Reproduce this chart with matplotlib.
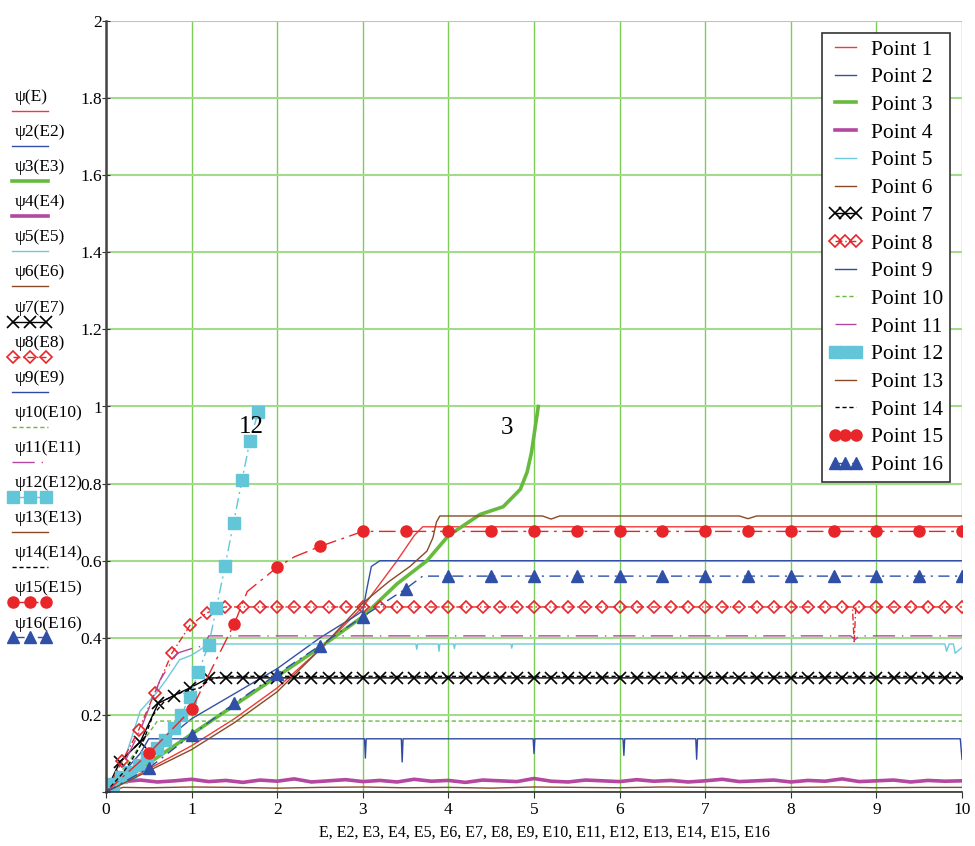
import numpy as np
import matplotlib
matplotlib.use("Agg")
import matplotlib.pyplot as plt
from matplotlib.lines import Line2D

plt.rcParams['font.family'] = ['Liberation Serif', 'DejaVu Serif']

# ---- data ----
E1 = [0, 0.5, 1.0, 1.5, 2.0, 2.5, 3.0, 3.4, 3.6, 3.7, 10]
P1 = [0, 0.06, 0.12, 0.19, 0.27, 0.37, 0.48, 0.6, 0.665, 0.688, 0.688]

E2 = [0, 0.5, 1.0, 1.5, 2.0, 2.5, 2.9, 3.0, 3.05, 3.1, 3.2, 10]
P2 = [0, 0.1, 0.19, 0.255, 0.32, 0.4, 0.455, 0.47, 0.53, 0.585, 0.6, 0.6]

E3 = [0, 0.5, 1, 1.5, 2, 2.5, 3, 3.4, 3.75, 4.0, 4.37, 4.64, 4.84, 4.92, 4.97, 5.01, 5.05]
P3 = [0, 0.075, 0.15, 0.225, 0.30, 0.375, 0.455, 0.54, 0.6, 0.665, 0.72, 0.74, 0.785, 0.83, 0.88, 0.94, 1.0]

E4 = [round(0.2 * i, 1) for i in range(51)]
P4 = [0, 0.027, 0.031, 0.026, 0.029, 0.033, 0.027, 0.03, 0.025, 0.031, 0.028, 0.034, 0.026,
      0.029, 0.032, 0.027, 0.03, 0.026, 0.033, 0.028, 0.03, 0.025, 0.031, 0.029, 0.027, 0.035,
      0.028, 0.026, 0.031, 0.029, 0.027, 0.032, 0.028, 0.03, 0.026, 0.029, 0.033, 0.027, 0.029,
      0.031, 0.026, 0.03, 0.028, 0.034, 0.027, 0.029, 0.031, 0.026, 0.03, 0.028, 0.029]

E5 = [0, 0.1, 0.24, 0.4, 0.5, 0.59, 0.7, 0.86, 1.0, 1.1, 1.18, 1.25, 3.62, 3.63, 3.64,
      3.88, 3.89, 3.9, 4.06, 4.07, 4.08, 4.73, 4.74, 4.75, 9.8, 9.82, 9.85, 9.9, 9.92, 10]
P5 = [0, 0.05, 0.1, 0.21, 0.235, 0.257, 0.29, 0.343, 0.355, 0.369, 0.382, 0.384, 0.384, 0.37, 0.384,
      0.384, 0.365, 0.384, 0.384, 0.372, 0.384, 0.384, 0.373, 0.384, 0.384, 0.365, 0.384, 0.384, 0.36, 0.375]

E6 = [0, 0.2, 0.5, 1.0, 1.5, 2.0, 2.5, 3.0, 3.5, 4.0, 4.5, 5.0, 5.5, 6.0, 6.5, 7.0, 7.5, 8.0, 8.5, 9.0, 9.5, 10]
P6 = [0, 0.012, 0.011, 0.013, 0.012, 0.01, 0.012, 0.013, 0.011, 0.012, 0.01, 0.013, 0.012, 0.011,
      0.013, 0.012, 0.011, 0.012, 0.013, 0.011, 0.012, 0.012]

E7 = [0, 0.16, 0.4, 0.61, 0.79, 0.98, 1.2] + [round(1.4 + 0.2 * i, 1) for i in range(44)]
P7 = [0, 0.078, 0.13, 0.23, 0.25, 0.27, 0.296] + [0.296] * 44

E8 = ([0, 0.19, 0.38, 0.57, 0.77, 0.98, 1.18, 1.39] + [round(1.6 + 0.2 * i, 1) for i in range(36)]
      + [8.72, 8.74, 8.76] + [round(8.8 + 0.2 * i, 1) for i in range(7)])
P8 = [0, 0.08, 0.16, 0.257, 0.36, 0.432, 0.465, 0.48] + [0.48] * 36 + [0.48, 0.39, 0.48] + [0.48] * 7
glitch8 = (8.72, 8.74, 8.76)

E9 = [0, 0.2, 0.4, 0.5, 3.02, 3.03, 3.04, 3.45, 3.46, 3.47, 4.99, 5.0, 5.01,
      6.04, 6.05, 6.06, 6.89, 6.9, 6.91, 9.98, 10.0]
P9 = [0, 0.05, 0.1, 0.138, 0.138, 0.088, 0.138, 0.138, 0.078, 0.138, 0.138, 0.1, 0.138,
      0.138, 0.095, 0.138, 0.138, 0.085, 0.138, 0.138, 0.085]

E10 = [0, 0.3, 0.6, 10]
P10 = [0, 0.09, 0.184, 0.184]

E11 = [0, 0.2, 0.4, 0.63, 0.83, 1.0, 1.15, 1.2, 8.7, 8.75, 8.8, 10]
P11 = [0, 0.07, 0.16, 0.29, 0.36, 0.372, 0.38, 0.405, 0.405, 0.395, 0.405, 0.405]

E12 = [0, 0.08, 0.18, 0.28, 0.38, 0.48, 0.59, 0.69, 0.79, 0.88, 0.98, 1.08, 1.2, 1.29, 1.39, 1.49, 1.59, 1.68, 1.78]
P12 = [0, 0.02, 0.04, 0.052, 0.07, 0.09, 0.114, 0.135, 0.165, 0.2, 0.247, 0.312, 0.382, 0.478, 0.585, 0.698, 0.81, 0.91, 0.987]

E13 = [0, 0.5, 1.0, 1.5, 2.0, 2.5, 3.0, 3.3, 3.55, 3.75, 3.82, 3.86, 3.9, 5.1, 5.2, 5.3, 7.4, 7.5, 7.6, 10]
P13 = [0, 0.055, 0.11, 0.18, 0.26, 0.37, 0.49, 0.545, 0.585, 0.625, 0.66, 0.7, 0.716, 0.716, 0.708, 0.716,
       0.716, 0.709, 0.716, 0.716]

E14 = [0, 0.2, 0.35, 0.45, 0.55, 0.7, 0.9, 1.1, 1.2, 1.35, 10]
P14 = [0, 0.05, 0.1, 0.14, 0.2, 0.24, 0.26, 0.27, 0.29, 0.3, 0.3]

E15 = [0, 0.5, 1.0, 1.5, 1.65, 2.0, 2.2, 2.5, 3.0] + [3.5 + 0.5 * i for i in range(14)]
P15 = [0, 0.1, 0.215, 0.437, 0.52, 0.583, 0.61, 0.637, 0.676] + [0.676] * 14

E16 = [0, 0.5, 1.0, 1.5, 2.0, 2.5, 3.0, 3.5, 3.7] + [4.0 + 0.5 * i for i in range(13)]
P16 = [0, 0.062, 0.148, 0.23, 0.306, 0.38, 0.455, 0.527, 0.56] + [0.56] * 13

E_all = [E1, E2, E3, E4, E5, E6, E7, E8, E9, E10, E11, E12, E13, E14, E15, E16]
P_all = [P1, P2, P3, P4, P5, P6, P7, P8, P9, P10, P11, P12, P13, P14, P15, P16]
names = ["Point %d" % (i + 1) for i in range(16)]
side_labels = ["ψ(E)"] + ["ψ%d(E%d)" % (i, i) for i in range(2, 17)]

# ---- line styles ----
red, blue, green, mag, cyan, brown = '#f03a3a', '#3550a8', '#66bb3f', '#b4479f', '#6ccadc', '#8a4a26'
styles = [
    dict(color=red, lw=1.0),
    dict(color=blue, lw=1.0),
    dict(color=green, lw=2.6),
    dict(color=mag, lw=2.6),
    dict(color=cyan, lw=1.0),
    dict(color=brown, lw=1.0),
    dict(color='black', lw=1.0, marker='x', ms=8, mew=1.2),
    dict(color='#e8262a', lw=1.0, ls=(0, (5, 2, 1, 2)), marker='D', ms=6, mfc='none', mew=1.2),
    dict(color='#2f4aa0', lw=1.0),
    dict(color=green, lw=1.0, ls=(0, (3, 2))),
    dict(color=mag, lw=1.0, ls=(0, (16, 5, 1, 5))),
    dict(color='#62c6d8', lw=1.0, ls=(0, (8, 3, 1.5, 3)), marker='s', ms=8),
    dict(color=brown, lw=1.0),
    dict(color='black', lw=1.0, ls=(0, (3, 2))),
    dict(color='#e8262a', lw=1.0, ls=(0, (12, 4, 2, 4)), marker='o', ms=8),
    dict(color='#3050a8', lw=1.0, ls=(0, (8, 4, 1.5, 4)), marker='^', ms=8),
]

marks = [None] * 16
marks[6] = slice(1, None)
marks[7] = [i for i, e in enumerate(E8) if i > 0 and e not in glitch8]
marks[11] = slice(1, None)
marks[14] = [i for i, e in enumerate(E15) if i > 0 and (e * 2) == int(e * 2)]
marks[15] = [i for i, e in enumerate(E16) if i > 0 and (e * 2) == int(e * 2)]

fig = plt.figure(figsize=(9.75, 8.46), dpi=100)

# left side: Mathcad style trace labels
side = fig.add_axes([0, 0, 100 / 975, 1])
side.set_xlim(0, 100)
side.set_ylim(846, 0)
side.axis('off')
for i in range(16):
    ty = 97 + 35.1 * i
    side.text(15, ty, side_labels[i], fontsize=12.5, va='center', ha='left')
    st = dict(styles[i])
    if 'marker' in st:
        side.plot([13, 30, 46], [ty + 14] * 3, **st)
    else:
        side.plot([12, 48], [ty + 14] * 2, **st)

ax = fig.add_axes([106 / 975, 1 - 792 / 846, (962 - 106) / 975, (792 - 21) / 846])

handles = []
for i in range(16):
    ax.plot(E_all[i], P_all[i], markevery=marks[i], **styles[i])
    handles.append(Line2D([], [], **styles[i]))

ax.set_xlim(0, 10)
ax.set_ylim(0, 2)
ax.set_xticks(range(11))
yt = [0, 0.2, 0.4, 0.6, 0.8, 1.0, 1.2, 1.4, 1.6, 1.8, 2.0]
ax.set_yticks(yt)
ax.set_yticklabels([''] + ['0.2', '0.4', '0.6', '0.8', '1', '1.2', '1.4', '1.6', '1.8', '2'])
ax.tick_params(axis='x', labelsize=12.5, direction='out', length=4, color='#333333', pad=3)
ax.tick_params(axis='y', labelsize=12.5, direction='inout', length=6, color='#333333', pad=0)
ax.xaxis.grid(True, color='#7ccd58', lw=1.0)
ax.yaxis.grid(True, color='#a2dc8a', lw=1.5)
ax.set_axisbelow(True)
for s in ['top', 'right']:
    ax.spines[s].set_visible(False)
ax.spines['left'].set_color('#444444')
ax.spines['left'].set_linewidth(1.8)
ax.spines['bottom'].set_color('#333333')
ax.spines['bottom'].set_linewidth(1.2)

ax.text(1.7, 0.948, "12", fontsize=18, ha='center', va='center')
ax.text(4.685, 0.945, "3", fontsize=18, ha='center', va='center')

leg = ax.legend(handles, names, loc='upper right', bbox_to_anchor=(950 / 975, 1 - 33 / 846),
                bbox_transform=fig.transFigure, fontsize=15.5, numpoints=3, frameon=True,
                fancybox=False, edgecolor='#333333', framealpha=1, borderpad=0.3,
                labelspacing=0.355, handlelength=1.6, handletextpad=0.4, borderaxespad=0)
leg.get_frame().set_linewidth(1.2)

fig.text(544 / 975, 1 - 833 / 846,
         "E, E2, E3, E4, E5, E6, E7, E8, E9, E10, E11, E12, E13, E14, E15, E16",
         fontsize=11.5, ha='center', va='center')

plt.savefig("out.png", dpi=100)
